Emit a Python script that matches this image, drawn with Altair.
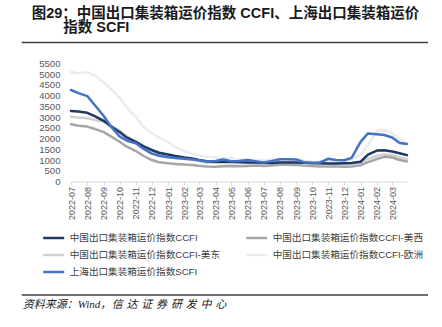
import altair as alt
import pandas as pd

dates = [
    "2022-07-01", "2022-07-15", "2022-08-01", "2022-08-15", "2022-09-01", "2022-09-15",
    "2022-10-01", "2022-10-15", "2022-11-01", "2022-11-15", "2022-12-01", "2022-12-15",
    "2023-01-01", "2023-01-15", "2023-02-01", "2023-02-15", "2023-03-01", "2023-03-15",
    "2023-04-01", "2023-04-15", "2023-05-01", "2023-05-15", "2023-06-01", "2023-06-15",
    "2023-07-01", "2023-07-15", "2023-08-01", "2023-08-15", "2023-09-01", "2023-09-15",
    "2023-10-01", "2023-10-15", "2023-11-01", "2023-11-15", "2023-12-01", "2023-12-15",
    "2024-01-01", "2024-01-15", "2024-02-01", "2024-02-15", "2024-03-01", "2024-03-15",
    "2024-03-29",
]

ccfi = [3290, 3260, 3200, 3050, 2830, 2560, 2310, 2040, 1850, 1650, 1470, 1340,
        1260, 1190, 1120, 1070, 1000, 940, 925, 925, 925, 910, 890, 880,
        870, 860, 880, 890, 880, 870, 860, 850, 840, 840, 850, 860,
        920, 1250, 1440, 1460, 1400, 1320, 1230]
ccfi_west = [2665, 2600, 2560, 2450, 2300, 2100, 1850, 1620, 1420, 1200, 1000, 900,
             850, 820, 790, 770, 730, 700, 690, 710, 720, 710, 720, 740,
             720, 750, 780, 780, 770, 740, 720, 700, 700, 700, 690, 700,
             760, 900, 1050, 1150, 1120, 1000, 930]
ccfi_east = [3020, 2980, 2950, 2880, 2780, 2600, 2380, 2100, 1850, 1600, 1420, 1270,
             1170, 1100, 1060, 1030, 950, 890, 870, 860, 850, 850, 850, 840,
             830, 860, 880, 880, 870, 850, 830, 820, 820, 820, 810, 830,
             880, 1050, 1200, 1260, 1220, 1120, 1050]
ccfi_europe = [5100, 5050, 5100, 4950, 4620, 4300, 3900, 3450, 3000, 2550, 2250, 2050,
               1830, 1600, 1420, 1300, 1220, 1160, 1120, 1090, 1080, 1040, 1030, 1010,
               1000, 1020, 1050, 1060, 1040, 980, 930, 920, 950, 960, 950, 1000,
               1250, 1700, 2350, 2400, 2250, 1950, 1780]
scfi = [4266, 4120, 3980, 3566, 3050, 2550, 2100, 1900, 1780, 1530, 1300, 1200,
        1130, 1090, 1060, 1030, 990, 930, 960, 1030, 940, 960, 1000, 950,
        890, 950, 1040, 1040, 1030, 900, 860, 880, 1060, 1000, 990, 1100,
        1850, 2240, 2200, 2170, 2050, 1790, 1750]

name_ccfi = "中国出口集装箱运价指数CCFI"
name_west = "中国出口集装箱运价指数CCFI-美西"
name_east = "中国出口集装箱运价指数CCFI-美东"
name_europe = "中国出口集装箱运价指数CCFI-欧洲"
name_scfi = "上海出口集装箱运价指数SCFI"

color_ccfi = "#1f3864"
color_west = "#a6a6a6"
color_east = "#d0d0d0"
color_europe = "#ececec"
color_scfi = "#4472c4"

# legend fills column by column: left column, then right column
legend_order = [name_ccfi, name_east, name_scfi, name_west, name_europe]
legend_colors = [color_ccfi, color_east, color_scfi, color_west, color_europe]

# drawing order, bottom to top
draw_series = [(name_europe, ccfi_europe), (name_east, ccfi_east),
               (name_west, ccfi_west), (name_ccfi, ccfi), (name_scfi, scfi)]

month_ticks = [
    (2022, 7), (2022, 8), (2022, 9), (2022, 10), (2022, 11), (2022, 12),
    (2023, 1), (2023, 2), (2023, 3), (2023, 4), (2023, 5), (2023, 6),
    (2023, 7), (2023, 8), (2023, 9), (2023, 10), (2023, 11), (2023, 12),
    (2024, 1), (2024, 2), (2024, 3),
]
y_ticks = [0, 500, 1000, 1500, 2000, 2500, 3000, 3500, 4000, 4500, 5000, 5500]

title_line1 = "图29：中国出口集装箱运价指数 CCFI、上海出口集装箱运价"
title_line2 = "指数 SCFI"
source_head = "资料来源：Wind，"
source_tail = "信达证券研发中心"

rows = []
for name, vals in draw_series:
    for d, v in zip(dates, vals):
        rows.append({"date": d + "T00:00:00", "value": v, "series": name})
df = pd.DataFrame(rows)

W, H = 442, 327
PL, PR, PT, PB = 71, 407, 63.5, 181.5

sans = "Liberation Sans, Noto Sans CJK SC"
serif = "Liberation Serif, Noto Sans CJK SC"

lines = alt.Chart(df).mark_line(strokeWidth=2.5, strokeJoin="round", strokeCap="round").encode(
    x=alt.X(
        "date:T",
        scale=alt.Scale(domain=[alt.DateTime(year=2022, month=7, date=1),
                                alt.DateTime(year=2024, month=3, date=29)],
                        nice=False, range=[PL, PR]),
        axis=alt.Axis(
            values=[alt.DateTime(year=y, month=m, date=1) for y, m in month_ticks],
            format="%Y-%m", labelAngle=270, labelFontSize=9, labelFont=sans,
            labelColor="#595959", tickColor="#d9d9d9", domainColor="#d9d9d9",
            tickSize=3, labelPadding=2, grid=False, title=None, labelOverlap=False,
            offset=PB - H,
        ),
    ),
    y=alt.Y(
        "value:Q",
        scale=alt.Scale(domain=[0, 5500], nice=False, range=[PB, PT]),
        axis=alt.Axis(values=y_ticks, format="d", domain=False, ticks=False, grid=False,
                      labelPadding=11, labelFontSize=9.6, labelFont=sans,
                      labelColor="#595959", title=None, offset=-PL),
    ),
    color=alt.Color(
        "series:N",
        scale=alt.Scale(domain=legend_order, range=legend_colors),
        legend=alt.Legend(
            orient="none", legendX=41.7, legendY=226, columns=2, title=None,
            symbolType="stroke", symbolSize=441, symbolStrokeWidth=2.5,
            labelFontSize=9.6, labelFont=sans, labelColor="#404040",
            columnPadding=20, rowPadding=-5.5, labelOffset=4, padding=0, labelLimit=300,
        ),
    ),
    detail="series:N",
)

one = pd.DataFrame({"k": [0]})

t1 = alt.Chart(one).mark_text(
    text=title_line1, align="left", baseline="middle", fontSize=14.5, fontWeight="bold",
    font=sans, color="#1a1a1a",
).encode(x=alt.value(31.7), y=alt.value(13.5))
t2 = alt.Chart(one).mark_text(
    text=title_line2, align="left", baseline="middle", fontSize=14.5, fontWeight="bold",
    font=sans, color="#1a1a1a",
).encode(x=alt.value(63.3), y=alt.value(28))
rule_top = alt.Chart(one).mark_rule(color="#404040", strokeWidth=1.5).encode(
    x=alt.value(21.7), x2=alt.value(428), y=alt.value(42.5))
rule_bottom = alt.Chart(one).mark_rule(color="#404040", strokeWidth=1.5).encode(
    x=alt.value(21.7), x2=alt.value(428), y=alt.value(295))
src1 = alt.Chart(one).mark_text(
    text=source_head, align="left", baseline="middle", fontSize=11, fontStyle="italic",
    font=serif, color="#1a1a1a",
).encode(x=alt.value(22.7), y=alt.value(304.5))

src_chars = []
for i, ch in enumerate(source_tail):
    src_chars.append(
        alt.Chart(one).mark_text(
            text=ch, align="left", baseline="middle", fontSize=11, fontStyle="italic",
            font=serif, color="#1a1a1a",
        ).encode(x=alt.value(111.7 + i * 14.8), y=alt.value(304.5))
    )

chart = alt.layer(lines, t1, t2, rule_top, rule_bottom, src1, *src_chars).properties(
    width=W, height=H,
    padding=0,
    autosize=alt.AutoSizeParams(type="none"),
).configure_view(stroke=None)

chart.save("out.html", embed_options={"renderer": "svg", "actions": False})
